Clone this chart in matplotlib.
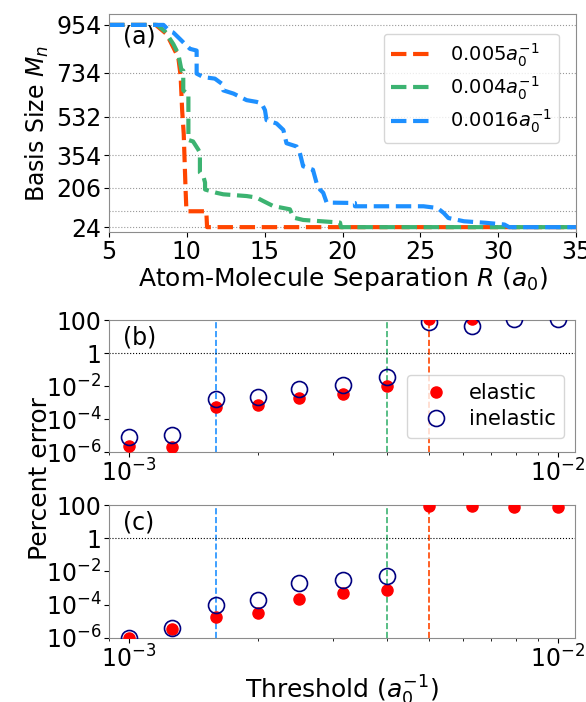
import matplotlib
matplotlib.use("Agg")
import matplotlib.pyplot as plt
import numpy as np

# ---- panel (a): basis size vs separation ----
r_red = [5, 8.0, 8.7, 9.45, 9.6, 9.7, 9.8, 9.92, 9.97, 10.0, 11.25, 11.3, 35]
m_red = [954, 954, 912, 805, 720, 560, 453, 195, 106, 97, 97, 24, 24]

r_green = [5, 8.1, 8.6, 9.13, 9.45, 9.66, 9.77, 9.77, 9.99, 10.1, 10.1, 10.4, 10.74, 10.84,
           10.84, 11.06, 11.17, 11.17, 11.9, 12.34, 13.84, 14.48, 14.91, 15.55, 16.62,
           16.84, 17.48, 19.84, 19.9, 35]
m_green = [954, 954, 924, 866, 821, 744, 744, 653, 640, 640, 425, 418, 380, 366,
           275, 258, 229, 197, 182, 175, 167, 160, 144, 121, 106,
           68, 57, 45, 24, 24]

r_blue = [5, 8.06, 8.5, 8.9, 9.13, 9.56, 9.88, 10.2, 10.63, 10.63, 11.06, 11.8, 12.24, 12.34,
          13.0, 13.84, 14.48, 14.8, 15.02, 15.12, 15.76, 16.2, 16.4, 17.05, 17.26, 17.47,
          18.1, 18.33, 18.55, 18.76, 18.98, 20.8, 20.8, 25.2, 26.1, 26.5, 26.8, 27.8,
          29.2, 30.4, 30.7, 35]
m_blue = [954, 954, 954, 925, 919, 889, 866, 844, 836, 730, 714, 707, 684, 653,
          638, 608, 600, 593, 562, 516, 501, 471, 410, 395, 365, 304,
          288, 228, 197, 182, 137, 135, 120, 120, 112, 89, 66, 51,
          44, 36, 24, 24]

size_ticks = [24, 206, 354, 532, 734, 954]
extra_grid = [96]
labels_a = [r"$0.005a_0^{-1}$", r"$0.004a_0^{-1}$", r"$0.0016a_0^{-1}$"]

# ---- panels (b), (c): percent error vs threshold ----
threshold = [0.001, 0.00126, 0.0016, 0.002, 0.0025, 0.00316, 0.004, 0.005, 0.0063, 0.0079, 0.01]
elastic_b = [2.2e-6, 2.0e-6, 5.4e-4, 7.4e-4, 1.8e-3, 3.1e-3, 1.05e-2, 110, 110, 300, 300]
inelastic_b = [8.3e-6, 1.05e-5, 1.7e-3, 2.3e-3, 6.5e-3, 1.1e-2, 3.5e-2, 75, 45, 120, 120]
elastic_c = [1.0e-6, 3.7e-6, 1.9e-5, 3.2e-5, 2.1e-4, 5.4e-4, 8.1e-4, 90, 90, 80, 80]
inelastic_c = [1.0e-6, 3.9e-6, 9.8e-5, 1.8e-4, 2.1e-3, 3.3e-3, 5.2e-3, np.nan, np.nan, np.nan, np.nan]

cut_values = [0.0016, 0.004, 0.005]
colors = ["orangered", "mediumseagreen", "dodgerblue"]
cut_colors = ["dodgerblue", "mediumseagreen", "orangered"]

fig = plt.figure(figsize=(5.86, 7.02), dpi=100)
ax_a = fig.add_axes([0.186, 0.669, 0.797, 0.311])
ax_b = fig.add_axes([0.186, 0.356, 0.795, 0.188])
ax_c = fig.add_axes([0.186, 0.0912, 0.795, 0.1894])

for r, m, c, lab in zip([r_red, r_green, r_blue], [m_red, m_green, m_blue], colors, labels_a):
    ax_a.plot(r, m, ls="--", lw=3, color=c, label=lab)
for y in size_ticks + extra_grid:
    ax_a.axhline(y, color="0.6", ls=":", lw=0.8, zorder=0)
ax_a.set_xlim(5, 35)
ax_a.set_ylim(0, 1004)
ax_a.set_yticks(size_ticks)
ax_a.set_xticks([5, 10, 15, 20, 25, 30, 35])
ax_a.tick_params(labelsize=17, pad=2)
ax_a.set_xlabel(r"Atom-Molecule Separation $R$ $(a_0)$", fontsize=18, labelpad=1)
ax_a.set_ylabel(r"Basis Size $M_n$", fontsize=17)
ax_a.yaxis.set_label_coords(-0.125, 0.5)
ax_a.text(0.03, 0.95, "(a)", transform=ax_a.transAxes, fontsize=17, va="top")
ax_a.legend(loc="upper right", fontsize=14, bbox_to_anchor=(0.985, 0.955), handlelength=2.2,
            labelspacing=0.3, borderpad=0.4)

for ax, el, inel, lab in [(ax_b, elastic_b, inelastic_b, "(b)"), (ax_c, elastic_c, inelastic_c, "(c)")]:
    for xv, cc in zip(cut_values, cut_colors):
        ax.axvline(xv, color=cc, ls="--", lw=1.2, zorder=1)
    ax.axhline(1, color="k", ls=":", lw=0.8, zorder=1)
    ax.plot(threshold, el, "o", color="red", ms=8, ls="none", label="elastic", zorder=3)
    ax.plot(threshold, inel, "o", mfc="none", mec="navy", mew=1.2, ms=11.5, ls="none",
            label="inelastic", zorder=4)
    ax.set_xscale("log")
    ax.set_yscale("log")
    ax.set_xlim(0.0009, 0.01095)
    ax.set_ylim(1e-6, 100)
    ax.set_yticks([1e-6, 1e-4, 1e-2, 1, 100])
    ax.set_yticklabels([r"$10^{-6}$", r"$10^{-4}$", r"$10^{-2}$", "1", "100"])
    ax.yaxis.set_minor_locator(matplotlib.ticker.NullLocator())
    ax.tick_params(labelsize=17, pad=2)
    ax.text(0.03, 0.96, lab, transform=ax.transAxes, fontsize=17, va="top")

ax_b.legend(loc="lower right", fontsize=15, bbox_to_anchor=(1.0, 0.03), handletextpad=0.6,
            labelspacing=0.3)
ax_c.set_xlabel(r"Threshold $(a_0^{-1})$", fontsize=18, labelpad=1)
fig.text(0.068, 0.318, "Percent error", rotation=90, fontsize=18, ha="center", va="center")

for ax in (ax_a, ax_b, ax_c):
    for sp in ax.spines.values():
        sp.set_color("0.55")

fig.savefig("out.png", dpi=100)
